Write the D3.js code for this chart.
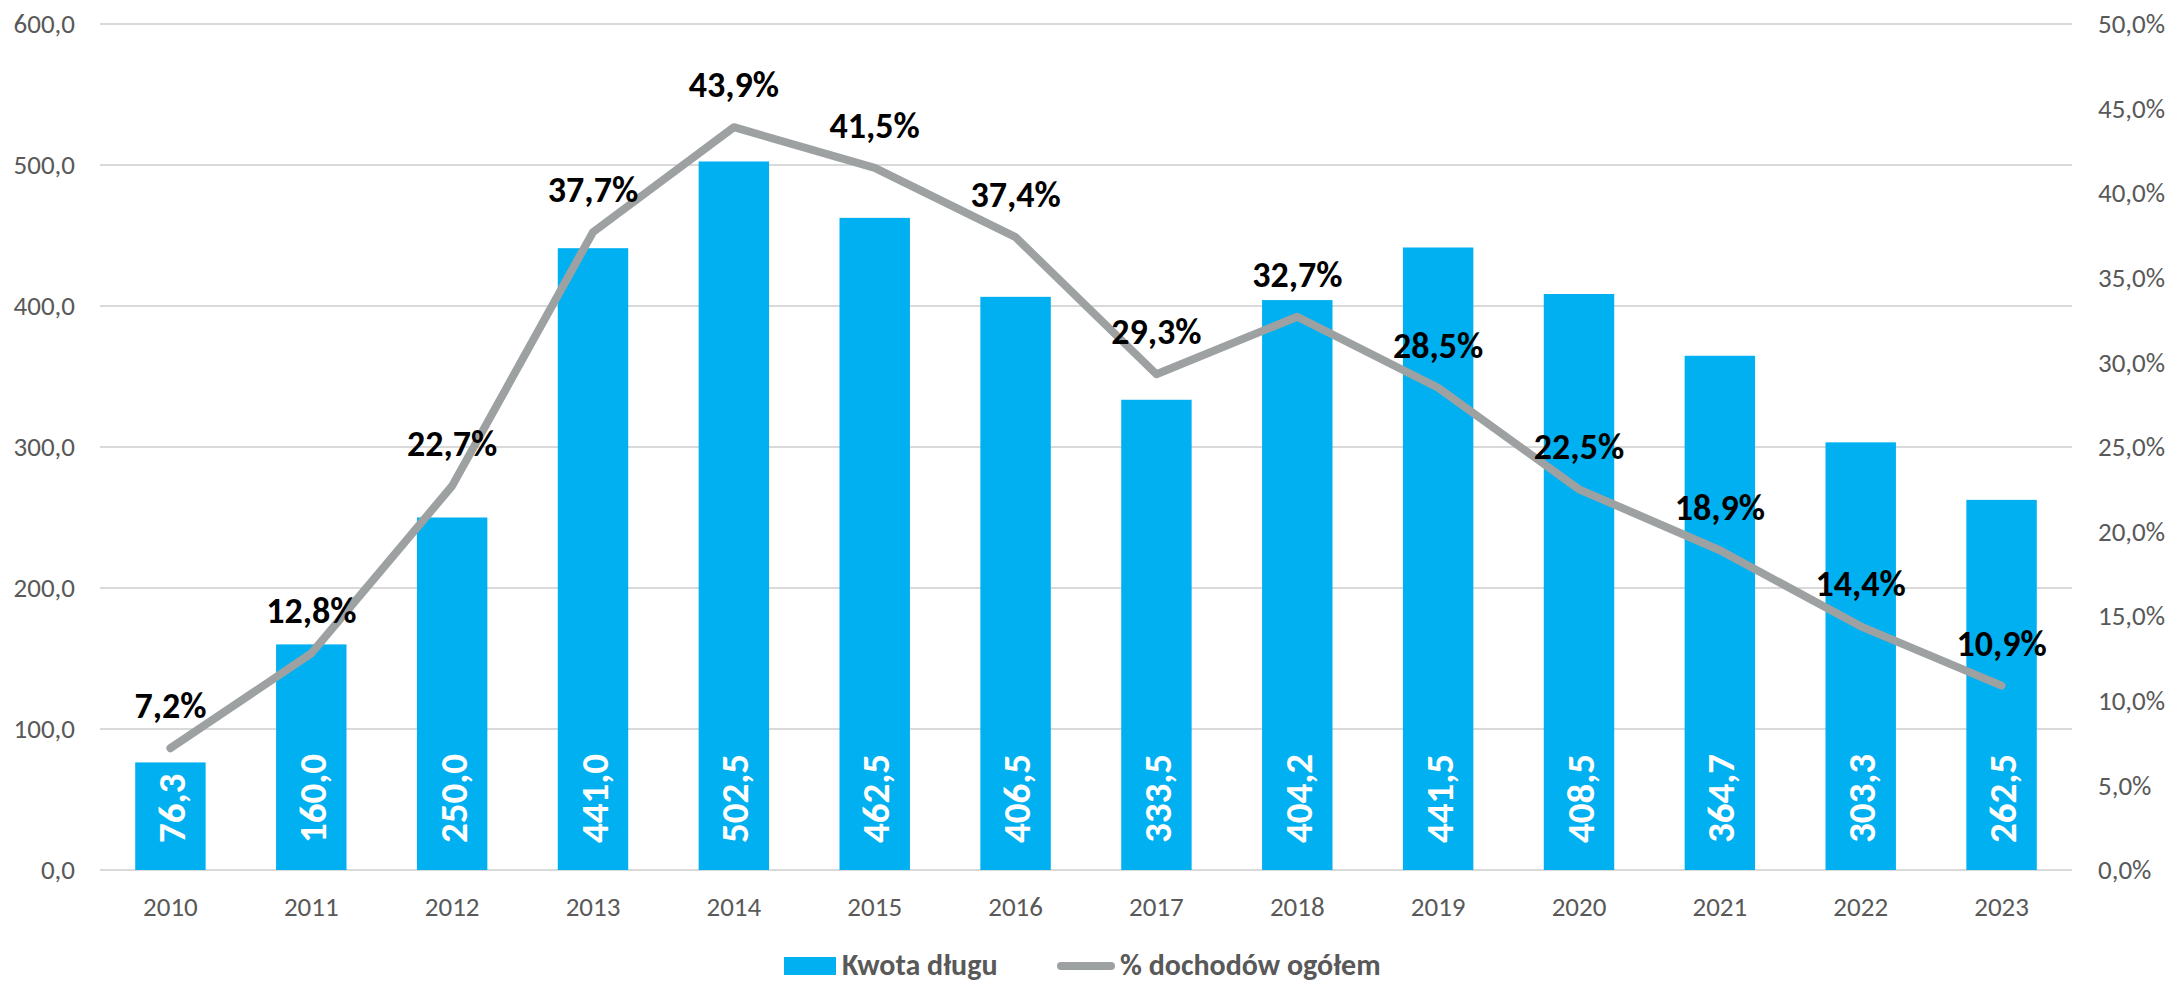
<!DOCTYPE html>
<html>
<head>
<meta charset="utf-8">
<script src="https://cdn.jsdelivr.net/npm/d3@7"></script>
<style>
html,body{margin:0;padding:0;background:#fff;}
svg{display:block;}
text{font-family:Carlito,"Open Sans",sans-serif;}
</style>
</head>
<body>
<svg id="chart" width="2169" height="982"></svg>
<script>
const years = ["2010","2011","2012","2013","2014","2015","2016","2017","2018","2019","2020","2021","2022","2023"];
const debt = [76.3,160.0,250.0,441.0,502.5,462.5,406.5,333.5,404.2,441.5,408.5,364.7,303.3,262.5];
const pct = [7.2,12.8,22.7,37.7,43.9,41.5,37.4,29.3,32.7,28.5,22.5,18.9,14.4,10.9];
const leftTicks = [0,100,200,300,400,500,600];
const rightTicks = [0,5,10,15,20,25,30,35,40,45,50];
const seriesNames = ["Kwota długu","% dochodów ogółem"];

(function(){
const svg = d3.select("#chart");
const pL = 100, pR = 2072, pT = 24, pB = 870;

const x = d3.scaleBand().domain(years).range([pL, pR]).paddingInner(0.5).paddingOuter(0.25);
const yL = d3.scaleLinear().domain([0,600]).range([pB, pT]);
const yR = d3.scaleLinear().domain([0,50]).range([pB, pT]);
const fmt1 = v => d3.format(".1f")(v).replace(".", ",");

// gridlines
svg.append("g").selectAll("line").data(leftTicks).join("line")
  .attr("x1", pL).attr("x2", pR)
  .attr("y1", d => yL(d)).attr("y2", d => yL(d))
  .attr("stroke", "#D9D9D9").attr("stroke-width", 2);

// left axis
const axL = svg.append("g").attr("transform", `translate(${pL},0)`)
  .call(d3.axisLeft(yL).tickValues(leftTicks).tickFormat(fmt1).tickSize(0).tickPadding(25));
axL.select(".domain").remove();
axL.selectAll("text").attr("fill", "#595959").style("font-size", "27px");

// right axis
const axR = svg.append("g").attr("transform", `translate(${pR},0)`)
  .call(d3.axisRight(yR).tickValues(rightTicks).tickFormat(d => fmt1(d) + "%").tickSize(0).tickPadding(26));
axR.select(".domain").remove();
axR.selectAll("text").attr("fill", "#595959").style("font-size", "27px");

// bottom axis
const axB = svg.append("g").attr("transform", `translate(0,${pB})`)
  .call(d3.axisBottom(x).tickSize(0).tickPadding(27));
axB.select(".domain").remove();
axB.selectAll("text").attr("fill", "#595959").style("font-size", "27px");

// bars
svg.append("g").selectAll("rect").data(years).join("rect")
  .attr("x", d => x(d)).attr("width", x.bandwidth())
  .attr("y", (d,i) => yL(debt[i])).attr("height", (d,i) => pB - yL(debt[i]))
  .attr("fill", "#00B0F0");

// bar labels (inside base, rotated)
svg.append("g").selectAll("text").data(years).join("text")
  .attr("transform", d => `translate(${x(d) + x.bandwidth()/2 + 1},${pB - 27}) rotate(-90)`)
  .attr("text-anchor", "start").attr("dominant-baseline", "central")
  .attr("fill", "#fff").style("font-size", "39px").style("font-weight", "bold")
  .text((d,i) => fmt1(debt[i]));

// line
const line = d3.line().x((d,i) => x(years[i]) + x.bandwidth()/2).y(d => yR(d));
svg.append("path").datum(pct).attr("d", line)
  .attr("fill", "none").attr("stroke", "#9EA1A2").attr("stroke-width", 8)
  .attr("stroke-linecap", "round").attr("stroke-linejoin", "round");

// line labels
svg.append("g").selectAll("text").data(pct).join("text")
  .attr("x", (d,i) => x(years[i]) + x.bandwidth()/2)
  .attr("y", d => yR(d) - 30)
  .attr("text-anchor", "middle").attr("fill", "#000")
  .style("font-size", "36px").style("font-weight", "bold")
  .text(d => fmt1(d) + "%");

// legend
const lg = svg.append("g");
lg.append("rect").attr("x", 784).attr("y", 957).attr("width", 52).attr("height", 18).attr("fill", "#00B0F0");
lg.append("text").attr("x", 842).attr("y", 975).attr("fill", "#595959")
  .style("font-size", "30px").style("font-weight", "bold").text(seriesNames[0]);
lg.append("line").attr("x1", 1061).attr("x2", 1111).attr("y1", 966).attr("y2", 966)
  .attr("stroke", "#9EA1A2").attr("stroke-width", 8).attr("stroke-linecap", "round");
lg.append("text").attr("x", 1120).attr("y", 975).attr("fill", "#595959")
  .style("font-size", "30px").style("font-weight", "bold").text(seriesNames[1]);
})();
</script>
</body>
</html>
